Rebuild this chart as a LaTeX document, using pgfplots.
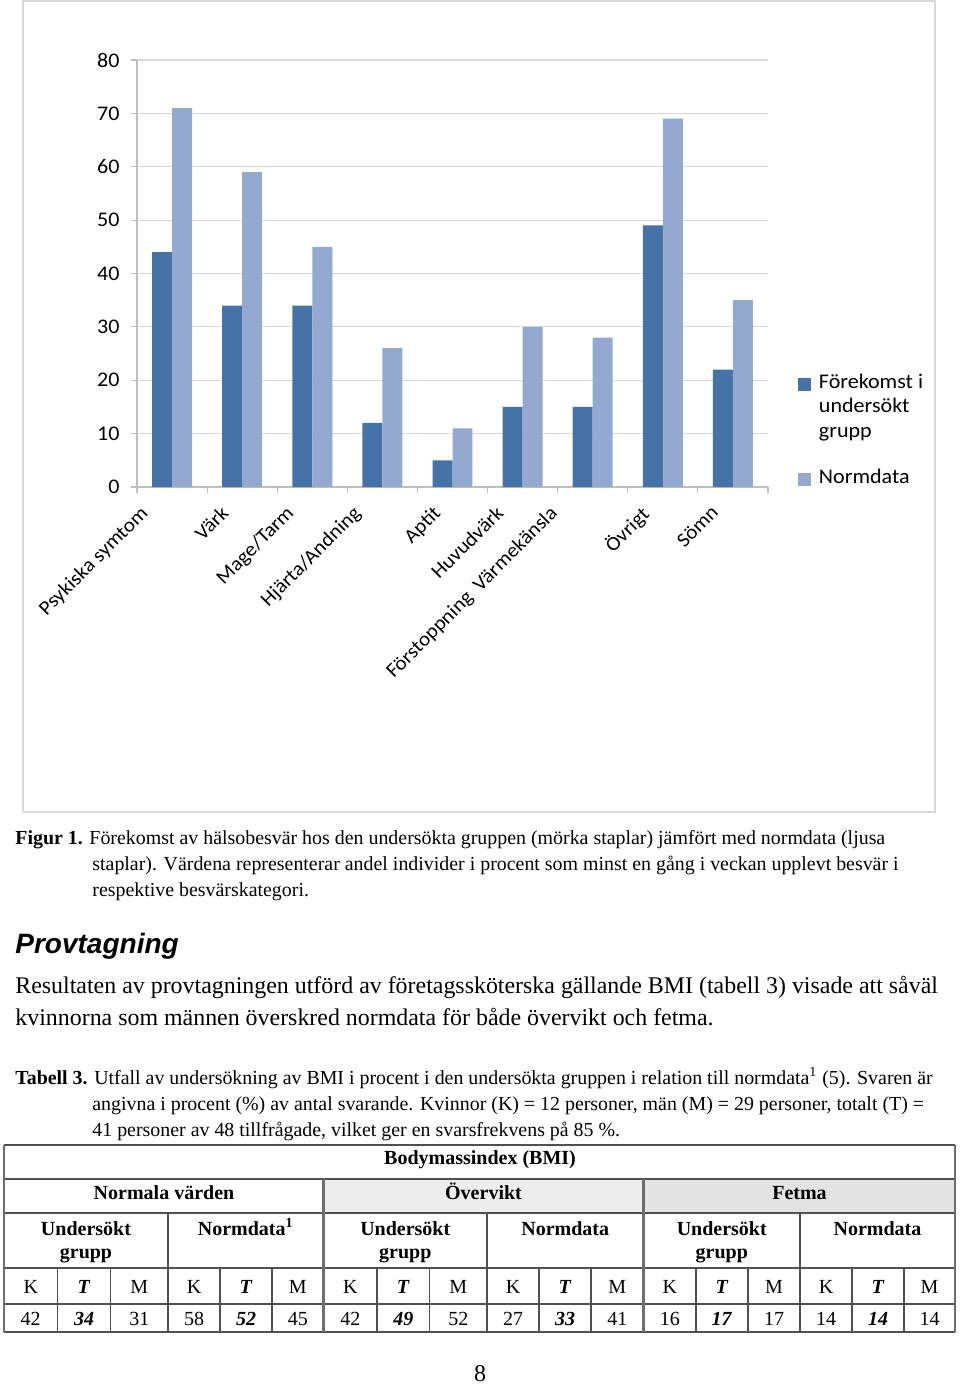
\documentclass[border=0pt]{standalone}
\usepackage{fontspec}
\setmainfont{Liberation Serif}
\newfontfamily\chartfont[FakeStretch=1.06]{Carlito}
\newfontfamily\arialfont{Liberation Sans}
\usepackage{pgfplots}
\pgfplotsset{compat=1.18}
\definecolor{darkbar}{HTML}{4572A7}
\definecolor{lightbar}{HTML}{93A9CF}
\definecolor{gridc}{HTML}{D9D9D9}
\definecolor{axisc}{HTML}{BFBFBF}
\definecolor{tabline}{HTML}{505050}
\definecolor{tabthick}{HTML}{6E6E6E}
\pgfplotsset{sqlegend/.style={legend image code/.code={\fill[##1] (0pt,-3.25pt) rectangle (6.5pt,3.25pt); \path (10.5pt,0pt);}}}
\newcommand{\cf}{\chartfont\fontsize{10.4}{12.4}\selectfont}
\newcommand{\cfx}{\chartfont\fontsize{10.0}{12}\selectfont}
\begin{document}
\begin{tikzpicture}
\useasboundingbox (0pt,0pt) rectangle (480pt,-692.5pt);
\fill[white] (0pt,0pt) rectangle (480pt,-692.5pt);
\begin{scope}[x=0.5pt,y=-0.5pt]
\draw[gridc, line width=0.6pt] (23,1) rectangle (935,812);
\end{scope}

\begin{axis}[
  at={(68.5pt,-243.5pt)}, anchor=south west,
  scale only axis, width=315.5pt, height=213.5pt,
  xmin=0, xmax=9, ymin=0, ymax=80,
  axis x line*=bottom, axis y line*=left,
  axis line style={axisc, line width=0.6pt},
  ytick={0,10,...,80},
  ymajorgrids, grid style={gridc, line width=0.6pt},
  tick align=outside, major tick length=3pt,
  ytick style={axisc, line width=0.6pt},
  xtick={0.027,1.182,2.109,3.065,4.206,5.105,5.870,7.159,8.170},
  xticklabels={Psykiska symtom, Värk, Mage/Tarm, Hjärta/Andning, Aptit, Huvudvärk, {Förstoppning\ \ Värmekänsla}, Övrigt, Sömn},
  xtick style={draw=none},
  extra x ticks={0,1,2,3,4,5,6,7,8,9},
  extra x tick labels={},
  extra x tick style={xtick style={draw=axisc, line width=0.6pt}, xmajorgrids=false},
  xticklabel style={font=\cfx, rotate=45, anchor=north east, inner sep=0pt},
  xticklabel shift=5.5pt,
  yticklabel style={font=\cf, anchor=east, inner sep=0pt, xshift=-5.5pt},
  /pgf/number format/assume math mode=true,
  legend style={at={(1.0475,0.2693)}, anchor=north west, draw=none, fill=none,
    inner sep=0pt, outer sep=0pt, font=\cf, row sep=0pt, column sep=0pt,
    nodes={inner sep=0pt, text height=8pt, text depth=4.25pt}},
  legend cell align=left,
]
\addplot[ybar, fill=darkbar, draw=none, bar width=0.285, bar shift=-0.1425, sqlegend]
  coordinates {(0.5,44) (1.5,34) (2.5,34) (3.5,12) (4.5,5) (5.5,15) (6.5,15) (7.5,49) (8.5,22)};
\addlegendentry{Förekomst i}
\addlegendimage{empty legend}
\addlegendentry{undersökt}
\addlegendimage{empty legend}
\addlegendentry{grupp}
\addlegendimage{empty legend}
\addlegendentry[text height=11pt, text depth=0pt]{\mbox{}}
\addplot[ybar, fill=lightbar, draw=none, bar width=0.285, bar shift=0.1425, sqlegend]
  coordinates {(0.5,71) (1.5,59) (2.5,45) (3.5,26) (4.5,11) (5.5,30) (6.5,28) (7.5,69) (8.5,35)};
\addlegendentry{Normdata}
\end{axis}

\begin{scope}[x=0.5pt,y=-0.5pt]
% caption figure
\begin{scope}[every node/.style={anchor=base west, inner sep=0pt, font=\fontsize{9.95}{12}\selectfont}]
\node at (15,844) {\textbf{Figur 1.} Förekomst av hälsobesvär hos den undersökta gruppen (mörka staplar) jämfört med normdata (ljusa};
\node at (92,870) {staplar). Värdena representerar andel individer i procent som minst en gång i veckan upplevt besvär i};
\node at (92,896) {respektive besvärskategori.};
\node at (15,1084) {\textbf{Tabell 3.} Utfall av undersökning av BMI i procent i den undersökta gruppen i relation till normdata\textsuperscript{1} (5). Svaren är};
\node at (92,1110) {angivna i procent (\%) av antal svarande. Kvinnor (K) = 12 personer, män (M) = 29 personer, totalt (T) =};
\node at (92,1136) {41 personer av 48 tillfrågade, vilket ger en svarsfrekvens på 85 \%.};
\end{scope}
\node[anchor=base west, inner sep=0pt] at (15,953) {\arialfont\bfseries\itshape\fontsize{14}{16}\selectfont Provtagning};
\begin{scope}[every node/.style={anchor=base west, inner sep=0pt, font=\fontsize{11.95}{14}\selectfont}]
\node at (15,993) {Resultaten av provtagningen utförd av företagssköterska gällande BMI (tabell 3) visade att såväl};
\node at (15,1025) {kvinnorna som männen överskred normdata för både övervikt och fetma.};
\end{scope}
% table shading
\fill[gray!14] (323.5,1179) rectangle (643.5,1213);
\fill[gray!22] (643.5,1179) rectangle (955,1213);
% horizontal lines
\foreach \yy in {1145,1179,1213,1268,1304,1332}
  \draw[tabline, line width=0.85pt] (4,\yy) -- (955,\yy);
% leaf verticals
\foreach \xx in {57.5,110.5,220,272,377,429.5,539,591,696,748,852,904}
  \draw[tabline, line width=0.75pt] (\xx,1268) -- (\xx,1332);
\foreach \xx in {168,487,800}
  \draw[tabline, line width=0.75pt] (\xx,1213) -- (\xx,1332);
\foreach \xx in {323.5,643.5}
  \draw[tabthick, line width=1.4pt] (\xx,1179) -- (\xx,1332);
\foreach \xx in {4,955}
  \draw[tabthick, line width=1.4pt] (\xx,1145) -- (\xx,1332);
% table text
\begin{scope}[every node/.style={anchor=base, inner sep=0pt, font=\fontsize{10}{12}\selectfont}]
\node at (480,1164) {\textbf{Bodymassindex (BMI)}};
\node at (164,1199) {\textbf{Normala värden}};
\node at (483.5,1199) {\textbf{Övervikt}};
\node at (799.5,1199) {\textbf{Fetma}};
\foreach \xx in {86,405.25,721.75} {
  \node at (\xx,1235) {\textbf{Undersökt}};
  \node at (\xx,1258) {\textbf{grupp}};
}
\node at (245.75,1235) {\textbf{Normdata\textsuperscript{1}}};
\node at (565.25,1235) {\textbf{Normdata}};
\node at (877.5,1235) {\textbf{Normdata}};
\foreach \xa/\xb/\xc in {30.75/84/139.25, 194/246/297.75, 350.25/403.25/458.25, 513/565/617.25, 669.75/722/774, 826/878/929.5} {
  \node at (\xa,1293) {K};
  \node at (\xb,1293) {\textbf{\textit{T}}};
  \node at (\xc,1293) {M};
}
\foreach \xx/\v in {30.75/42, 139.25/31, 194/58, 297.75/45, 350.25/42, 458.25/52, 513/27, 617.25/41, 669.75/16, 774/17, 826/14, 929.5/14}
  \node at (\xx,1325) {\v};
\foreach \xx/\v in {84/34, 246/52, 403.25/49, 565/33, 722/17, 878/14}
  \node at (\xx,1325) {\textbf{\textit{\v}}};
\node at (480,1381) {\fontsize{12}{14}\selectfont 8};
\end{scope}
\end{scope}
\end{tikzpicture}
\end{document}
